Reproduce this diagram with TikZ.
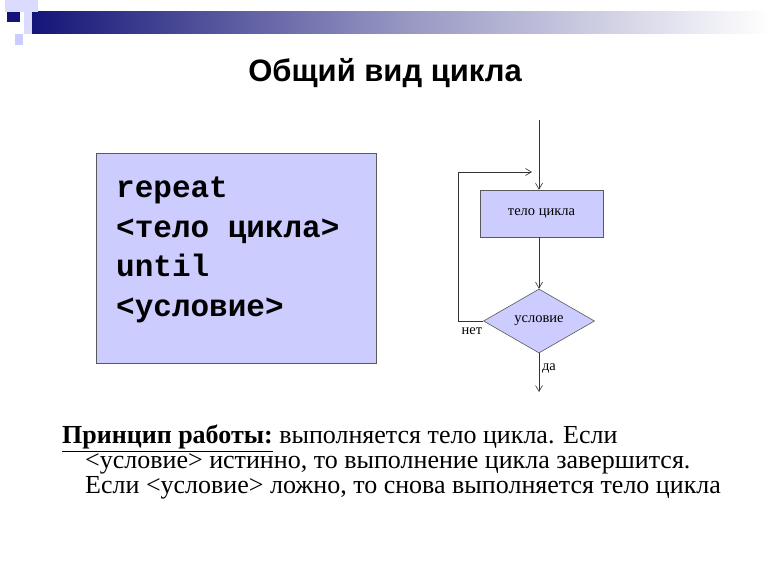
\documentclass[tikz,border=0pt]{standalone}
\usepackage{fontspec}
\setmainfont{Liberation Serif}
\newfontfamily\arialf{Liberation Sans}
\newfontfamily\courf{Liberation Mono}
\usetikzlibrary{arrows.meta,shapes.geometric}
\definecolor{lav}{RGB}{204,204,255}
\definecolor{navy}{RGB}{20,20,120}
\tikzset{
  flow/.style={draw=black!80,line width=0.6pt,-{Straight Barb[length=6pt,width=7pt]}},
  fbox/.style={draw=gray!70!black,fill=lav,line width=0.6pt},
  smallt/.style={font=\fontsize{14.5}{16}\selectfont},
}
\begin{document}
\begin{tikzpicture}[x=1pt,y=-1pt]
\useasboundingbox[fill=white] (0,0) rectangle (770,577);
% header bar
\shade[left color=navy,right color=white,middle color=navy!45] (30,12) rectangle (770,34);
\fill[lav!70] (5,0) rectangle (38,12);
\fill[lav!70] (24,12) rectangle (32,34);
\fill[navy] (7,12) rectangle (20,22);
\fill[lav] (15,34) rectangle (23,45);
% title
\node[font=\arialf\bfseries\fontsize{31}{36}\selectfont] (title) at (385,73) {Общий вид цикла};
% code box
\node[fbox,minimum width=280,minimum height=210,anchor=north west] (code) at (96,153) {};
\node[anchor=north west,align=left,font=\courf\bfseries\fontsize{31}{39.5}\selectfont,inner sep=0] (codetext) at (116,177)
{repeat\\<тело цикла>\\until\\<условие>};
% flowchart
\coordinate (top) at (539,120);
\node[fbox,minimum width=123,minimum height=47,smallt] (body) at (541.5,213.5) {тело цикла};
\node[fbox,diamond,aspect=1.75,minimum width=111,minimum height=64,inner sep=0,smallt] (cond) at (539,321) {условие};
\coordinate (end) at (539,392);
\draw[flow] (top) -- (top |- body.north);
\draw[flow] (body.south -| cond.north) -- (cond.north);
\draw[flow] (cond.south) -- (end);
\draw[flow] (cond.west) -- (458,321) -- (458,172) -- (532,172);
\node[smallt] (net) at (472,331) {нет};
\node[smallt] (da) at (549,368) {да};
% text
\node[anchor=north west,align=left,inner sep=0,font=\fontsize{26}{25}\selectfont] (desc) at (62,425)
{\textbf{\underline{Принцип работы:}} выполняется тело цикла. Если\\
\hspace*{23pt}<условие> истинно, то выполнение цикла завершится.\\
\hspace*{23pt}Если <условие> ложно, то снова выполняется тело цикла};
\end{tikzpicture}
\end{document}
